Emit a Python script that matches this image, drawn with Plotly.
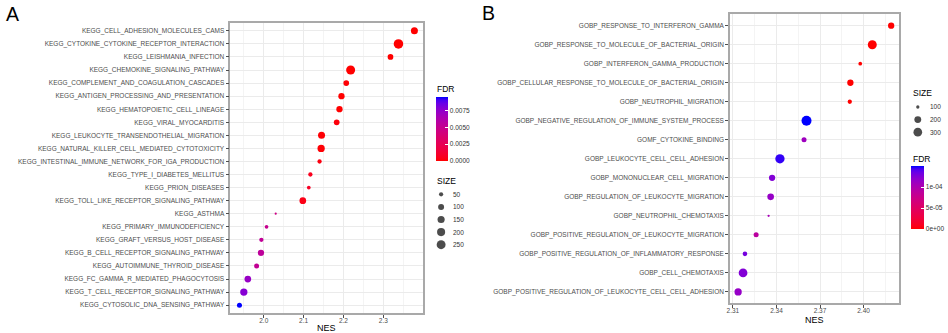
import numpy as np
import plotly.graph_objects as go

W, H = 948, 333
FONT = "Liberation Sans, Arial, sans-serif"

# ---------------- data: panel A (KEGG) ----------------
kegg_terms = [
    "KEGG_CELL_ADHESION_MOLECULES_CAMS",
    "KEGG_CYTOKINE_CYTOKINE_RECEPTOR_INTERACTION",
    "KEGG_LEISHMANIA_INFECTION",
    "KEGG_CHEMOKINE_SIGNALING_PATHWAY",
    "KEGG_COMPLEMENT_AND_COAGULATION_CASCADES",
    "KEGG_ANTIGEN_PROCESSING_AND_PRESENTATION",
    "KEGG_HEMATOPOIETIC_CELL_LINEAGE",
    "KEGG_VIRAL_MYOCARDITIS",
    "KEGG_LEUKOCYTE_TRANSENDOTHELIAL_MIGRATION",
    "KEGG_NATURAL_KILLER_CELL_MEDIATED_CYTOTOXICITY",
    "KEGG_INTESTINAL_IMMUNE_NETWORK_FOR_IGA_PRODUCTION",
    "KEGG_TYPE_I_DIABETES_MELLITUS",
    "KEGG_PRION_DISEASES",
    "KEGG_TOLL_LIKE_RECEPTOR_SIGNALING_PATHWAY",
    "KEGG_ASTHMA",
    "KEGG_PRIMARY_IMMUNODEFICIENCY",
    "KEGG_GRAFT_VERSUS_HOST_DISEASE",
    "KEGG_B_CELL_RECEPTOR_SIGNALING_PATHWAY",
    "KEGG_AUTOIMMUNE_THYROID_DISEASE",
    "KEGG_FC_GAMMA_R_MEDIATED_PHAGOCYTOSIS",
    "KEGG_T_CELL_RECEPTOR_SIGNALING_PATHWAY",
    "KEGG_CYTOSOLIC_DNA_SENSING_PATHWAY",
]
kegg_nes = [2.378, 2.338, 2.318, 2.218, 2.207, 2.195, 2.190, 2.183, 2.145, 2.144, 2.140,
            2.117, 2.113, 2.098, 2.030, 2.007, 1.994, 1.993, 1.982, 1.960, 1.950, 1.939]
kegg_size = [142, 290, 90, 256, 90, 112, 112, 90, 142, 157, 52,
             52, 41, 129, 30, 41, 52, 112, 68, 129, 157, 68]
kegg_fdr = [0.0, 0.0, 0.0, 0.0, 0.0001, 0.0, 0.0, 0.0002, 0.0001, 0.0001, 0.0003,
            0.0006, 0.0008, 0.0004, 0.0046, 0.0050, 0.0053, 0.0055, 0.0052, 0.0072, 0.0078, 0.0095]

kegg_nes_ticks = [2.0, 2.1, 2.2, 2.3]
kegg_size_breaks = [50, 100, 150, 200, 250]
kegg_fdr_ticks = [0.0, 0.0025, 0.005, 0.0075]
kegg_fdr_labels = ["0.0000", "0.0025", "0.0050", "0.0075"]

# ---------------- data: panel B (GO) ----------------
go_terms = [
    "GOBP_RESPONSE_TO_INTERFERON_GAMMA",
    "GOBP_RESPONSE_TO_MOLECULE_OF_BACTERIAL_ORIGIN",
    "GOBP_INTERFERON_GAMMA_PRODUCTION",
    "GOBP_CELLULAR_RESPONSE_TO_MOLECULE_OF_BACTERIAL_ORIGIN",
    "GOBP_NEUTROPHIL_MIGRATION",
    "GOBP_NEGATIVE_REGULATION_OF_IMMUNE_SYSTEM_PROCESS",
    "GOMF_CYTOKINE_BINDING",
    "GOBP_LEUKOCYTE_CELL_CELL_ADHESION",
    "GOBP_MONONUCLEAR_CELL_MIGRATION",
    "GOBP_REGULATION_OF_LEUKOCYTE_MIGRATION",
    "GOBP_NEUTROPHIL_CHEMOTAXIS",
    "GOBP_POSITIVE_REGULATION_OF_LEUKOCYTE_MIGRATION",
    "GOBP_POSITIVE_REGULATION_OF_INFLAMMATORY_RESPONSE",
    "GOBP_CELL_CHEMOTAXIS",
    "GOBP_POSITIVE_REGULATION_OF_LEUKOCYTE_CELL_CELL_ADHESION",
]
go_nes = [2.419, 2.406, 2.3977, 2.3909, 2.3905, 2.3607, 2.359, 2.3424,
          2.337, 2.336, 2.3346, 2.326, 2.3183, 2.317, 2.3136]
go_size = [175, 320, 105, 175, 115, 392, 132, 340, 175, 190, 95, 132, 120, 300, 220]
go_fdr = [0.0, 0.0, 0.0, 0.0, 0.0, 1.50e-4, 1.10e-4, 1.45e-4, 1.25e-4, 1.15e-4,
          1.05e-4, 0.90e-4, 1.30e-4, 1.25e-4, 1.15e-4]

go_nes_ticks = [2.31, 2.34, 2.37, 2.40]
go_size_breaks = [100, 200, 300]
go_fdr_ticks = [0.0, 5e-5, 1e-4]
go_fdr_labels = ["0e+00", "5e-05", "1e-04"]


# ---------------- helpers ----------------
def px(x):
    return x / W


def py(y):
    return 1 - y / H


def _lin(c):
    c = c / 255.0
    return c / 12.92 if c <= 0.04045 else ((c + 0.055) / 1.055) ** 2.4


def _gam(c):
    c = min(1.0, max(0.0, c))
    c = 12.92 * c if c <= 0.0031308 else 1.055 * c ** (1 / 2.4) - 0.055
    return int(round(c * 255))


def rgb_to_lab(rgb):
    r, g, b = [_lin(v) for v in rgb]
    X = 0.4124 * r + 0.3576 * g + 0.1805 * b
    Y = 0.2126 * r + 0.7152 * g + 0.0722 * b
    Z = 0.0193 * r + 0.1192 * g + 0.9505 * b
    d = 6 / 29

    def f(t):
        return t ** (1 / 3) if t > d ** 3 else t / (3 * d * d) + 4 / 29

    fx, fy, fz = f(X / 0.95047), f(Y / 1.0), f(Z / 1.08883)
    return (116 * fy - 16, 500 * (fx - fy), 200 * (fy - fz))


def lab_to_rgb(lab):
    L, a, b = lab
    d = 6 / 29
    fy = (L + 16) / 116
    fx = fy + a / 500
    fz = fy - b / 200

    def fi(t):
        return t ** 3 if t > d else 3 * d * d * (t - 4 / 29)

    X, Y, Z = 0.95047 * fi(fx), fi(fy), 1.08883 * fi(fz)
    r = 3.2406 * X - 1.5372 * Y - 0.4986 * Z
    g = -0.9689 * X + 1.8758 * Y + 0.0415 * Z
    bb = 0.0557 * X - 0.2040 * Y + 1.0570 * Z
    return tuple(_gam(v) for v in (r, g, bb))


def lab_scale(low, high, n=21):
    l1, l2 = rgb_to_lab(low), rgb_to_lab(high)
    out = []
    for i in range(n):
        t = i / (n - 1)
        lab = tuple(a + (b - a) * t for a, b in zip(l1, l2))
        r, g, b = lab_to_rgb(lab)
        out.append([t, f"rgb({r},{g},{b})"])
    return out


def bubble_px(v, vmin, vmax, dmin, dmax):
    t = (np.asarray(v, dtype=float) - vmin) / (vmax - vmin)
    return dmin + (dmax - dmin) * np.sqrt(np.clip(t, 0, 1))


CS = lab_scale((255, 0, 0), (0, 0, 255))

A_DMIN, A_DMAX = 2.2, 9.5
B_DMIN, B_DMAX = 2.3, 10.0
a_lo, a_hi = min(kegg_size), max(kegg_size)
b_lo, b_hi = min(go_size), max(go_size)

GRID = "#ebebeb"
MINOR = "#f4f4f4"
BORDER = "#a9a9a9"
TICKC = "#4d4d4d"

fig = go.Figure()

fig.add_trace(go.Scatter(
    x=kegg_nes, y=kegg_terms, mode="markers", xaxis="x", yaxis="y",
    marker=dict(size=bubble_px(kegg_size, a_lo, a_hi, A_DMIN, A_DMAX),
                color=kegg_fdr, coloraxis="coloraxis", line=dict(width=0), opacity=1),
    showlegend=False, hoverinfo="x+y"))

fig.add_trace(go.Scatter(
    x=go_nes, y=go_terms, mode="markers", xaxis="x2", yaxis="y2",
    marker=dict(size=bubble_px(go_size, b_lo, b_hi, B_DMIN, B_DMAX),
                color=go_fdr, coloraxis="coloraxis2", line=dict(width=0), opacity=1),
    showlegend=False, hoverinfo="x+y"))

# size legend dots (overlay axis in pixel units)
a_leg_y = [194.3 + 12.6 * i for i in range(len(kegg_size_breaks))]
b_leg_y = [107 + 12.6 * i for i in range(len(go_size_breaks))]
fig.add_trace(go.Scatter(
    x=[439.5] * len(kegg_size_breaks), y=a_leg_y, mode="markers", xaxis="x3", yaxis="y3",
    marker=dict(size=bubble_px(kegg_size_breaks, a_lo, a_hi, A_DMIN, A_DMAX), color="black",
                line=dict(width=0)),
    showlegend=False, hoverinfo="skip"))
fig.add_trace(go.Scatter(
    x=[917.7] * len(go_size_breaks), y=b_leg_y, mode="markers", xaxis="x3", yaxis="y3",
    marker=dict(size=bubble_px(go_size_breaks, b_lo, b_hi, B_DMIN, B_DMAX), color="black",
                line=dict(width=0)),
    showlegend=False, hoverinfo="skip"))

xcommon = dict(showline=True, mirror=True, linecolor=BORDER, linewidth=1.5,
               ticks="outside", ticklen=3, tickcolor=TICKC, tickwidth=1,
               tickfont=dict(family=FONT, size=6.5, color=TICKC),
               ticklabelstandoff=-3,
               showgrid=True, gridcolor=GRID, gridwidth=1, zeroline=False)
ycommon = dict(type="category", showline=True, mirror=True, linecolor=BORDER, linewidth=1.5,
               ticks="outside", ticklen=3, tickcolor=TICKC, tickwidth=1,
               tickfont=dict(family=FONT, size=6.5, color=TICKC),
               showgrid=True, gridcolor=GRID, gridwidth=1, zeroline=False,
               categoryorder="array")

cb_common = dict(xanchor="left", yanchor="middle", xpad=0, ypad=0, lenmode="pixels",
                 thicknessmode="pixels", ticks="inside", tickcolor="white", ticklen=3,
                 tickwidth=1, outlinewidth=0,
                 tickfont=dict(family=FONT, size=6.5, color="#333333"))

fig.update_layout(
    width=W, height=H, margin=dict(l=0, r=0, t=0, b=0),
    paper_bgcolor="white", plot_bgcolor="rgba(0,0,0,0)",
    font=dict(family=FONT),
    xaxis=dict(domain=[px(228), px(421.7)], range=[1.916, 2.4005], anchor="y",
               tickmode="array", tickvals=kegg_nes_ticks,
               ticktext=[f"{v:.1f}" for v in kegg_nes_ticks],
               minor=dict(tickmode="array",
                          tickvals=[v + d for v in kegg_nes_ticks for d in (-0.05, 0.05)],
                          showgrid=True, gridcolor=MINOR, gridwidth=0.6),
               **xcommon),
    yaxis=dict(domain=[py(313), py(23)], anchor="x",
               categoryarray=kegg_terms[::-1], range=[-0.6, len(kegg_terms) - 0.4],
               **ycommon),
    xaxis2=dict(domain=[px(729.3), px(899)], range=[2.308, 2.4245], anchor="y2",
                tickmode="array", tickvals=go_nes_ticks,
                ticktext=[f"{v:.2f}" for v in go_nes_ticks],
                minor=dict(tickmode="array",
                           tickvals=[v + d for v in go_nes_ticks for d in (-0.015, 0.015)],
                           showgrid=True, gridcolor=MINOR, gridwidth=0.6),
                **xcommon),
    yaxis2=dict(domain=[py(303.3), py(14.3)], anchor="x2",
                categoryarray=go_terms[::-1], range=[-0.6, len(go_terms) - 0.4],
                **ycommon),
    xaxis3=dict(domain=[0, 1], range=[0, W], visible=False, anchor="y3",
                showgrid=False, zeroline=False, fixedrange=True),
    yaxis3=dict(domain=[0, 1], range=[H, 0], visible=False, anchor="x3",
                showgrid=False, zeroline=False, fixedrange=True),
    coloraxis=dict(colorscale=CS, cmin=0, cmax=max(kegg_fdr),
                   colorbar=dict(x=px(434), y=py(129), len=64, thickness=12,
                                 tickvals=kegg_fdr_ticks, ticktext=kegg_fdr_labels,
                                 **cb_common)),
    coloraxis2=dict(colorscale=CS, cmin=0, cmax=max(go_fdr),
                    colorbar=dict(x=px(911), y=py(197.5), len=63, thickness=13,
                                  tickvals=go_fdr_ticks, ticktext=go_fdr_labels,
                                  **cb_common)),
)

ann = []


def add_text(x, y, text, size, color="black", xanchor="left"):
    ann.append(dict(x=px(x), y=py(y), xref="paper", yref="paper", text=text, showarrow=False,
                    xanchor=xanchor, yanchor="middle",
                    font=dict(family=FONT, size=size, color=color)))


add_text(9.7, 13.7, "A", 19.5, xanchor="center")
add_text(487, 12.7, "B", 19.5, xanchor="center")
add_text(325, 328, "NES", 9, xanchor="center")
add_text(814, 319.5, "NES", 9, xanchor="center")
add_text(433.5, 89, "FDR", 8.5)
add_text(433.5, 181, "SIZE", 8.5)
add_text(910.5, 93, "SIZE", 8.5)
add_text(910.5, 158.5, "FDR", 8.5)
for v, yy in zip(kegg_size_breaks, a_leg_y):
    add_text(449.5, yy, str(v), 6.5, color="#333333")
for v, yy in zip(go_size_breaks, b_leg_y):
    add_text(928, yy, str(v), 6.5, color="#333333")

fig.update_layout(annotations=ann)
fig.write_html("out.html", config={"displayModeBar": False},
               post_script="document.body.style.margin='0';document.body.style.overflow='hidden';")
